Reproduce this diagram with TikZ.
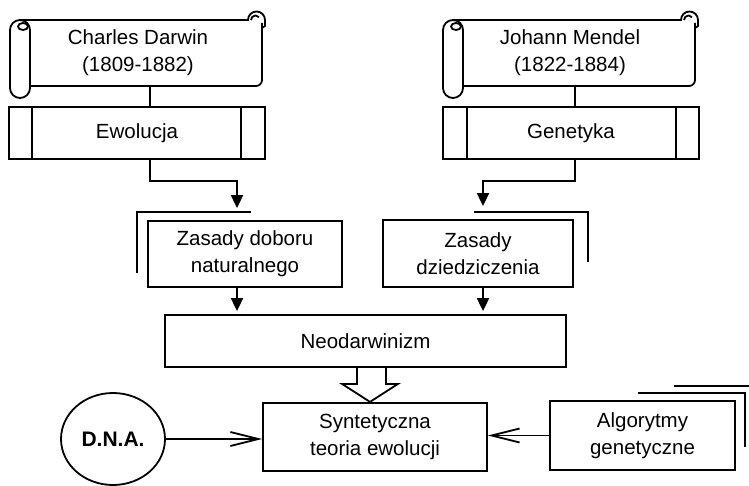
\documentclass[tikz,border=0pt]{standalone}
\usepackage{fontspec}
\setmainfont{Liberation Sans}
\usetikzlibrary{arrows.meta,shapes.geometric}

\tikzset{
  scrollpic/.pic={
    % left roll with its curl
    \draw (0,10) arc[start angle=180,end angle=360,radius=10] -- (20,68)
          arc[start angle=0,end angle=180,radius=10] -- cycle;
    \draw (13,6.5) ellipse[x radius=5,y radius=3.5];
    % top edge and right roll
    \draw (10,0) -- (238,0) arc[start angle=180,end angle=360,radius=8.5] -- (255,6) -- (252,8);
    \draw (241,0) arc[start angle=180,end angle=320,radius=4.5];
    % right edge and bottom edge
    \draw (252,3) -- (252,60) arc[start angle=0,end angle=90,radius=6] -- (20,66);
  },
  box/.style={draw,rectangle},
  txt/.style={font=\fontsize{20.5}{27}\selectfont,align=center,inner sep=0pt},
  fillarr/.style={-{Triangle[length=13pt,width=12pt]}},
  openarr/.style={-{Straight Barb[length=28pt,width=14pt]}},
}

\begin{document}
\begin{tikzpicture}[x=1pt,y=-1pt,line width=1.8pt]
\useasboundingbox (0,0) rectangle (749,486);

% scrolls with names
\pic at (10,20) {scrollpic};
\pic at (443,20) {scrollpic};
\node[txt,minimum width=232pt,minimum height=66pt] (darwin) at (138,53) {Charles Darwin\\(1809-1882)};
\node[txt,minimum width=232pt,minimum height=66pt] (mendel) at (570,53) {Johann Mendel\\(1822-1884)};

% banner boxes
\node[box,txt,minimum width=256pt,minimum height=52pt] (ewol) at (137,133) {Ewolucja};
\node[box,txt,minimum width=256pt,minimum height=52pt] (gen) at (571,133) {Genetyka};
\draw ([xshift=24pt]ewol.north west) -- ([xshift=24pt]ewol.south west);
\draw ([xshift=-25pt]ewol.north east) -- ([xshift=-25pt]ewol.south east);
\draw ([xshift=25pt]gen.north west) -- ([xshift=25pt]gen.south west);
\draw ([xshift=-24pt]gen.north east) -- ([xshift=-24pt]gen.south east);

% principles
\node[box,txt,minimum width=194pt,minimum height=66pt] (zdob) at (245,254) {Zasady doboru\\naturalnego};
\node[box,txt,minimum width=190pt,minimum height=67pt] (zdz) at (478,253.5) {Zasady\\dziedziczenia};
\draw ([xshift=-10pt,yshift=15pt]zdob.south west) |- ([xshift=104pt,yshift=8pt]zdob.north west);
\draw ([xshift=-100pt,yshift=7pt]zdz.north east) -| ([xshift=14pt,yshift=-43pt]zdz.north east);

\node[box,txt,minimum width=401pt,minimum height=52pt] (neo) at (365.5,341) {Neodarwinizm};
\node[box,txt,minimum width=224pt,minimum height=68pt] (syn) at (375,437) {Syntetyczna\\teoria ewolucji};
\node[draw,ellipse,txt,font=\fontsize{21}{27}\selectfont\bfseries,minimum width=104pt,minimum height=92pt] (dna) at (113,439) {D.N.A.};
\node[box,txt,minimum width=185pt,minimum height=69pt] (alg) at (642.5,435.5) {Algorytmy\\genetyczne};
\draw ([xshift=-98pt,yshift=7pt]alg.north east) -| ([xshift=9pt,yshift=-47pt]alg.north east);
\draw ([xshift=-62pt,yshift=14pt]alg.north east) -- ([xshift=18pt,yshift=14pt]alg.north east);

% guide columns
\coordinate (dl) at (150,0);
\coordinate (ml) at (575,0);
\coordinate (lc) at (237,0);
\coordinate (rc) at (483,0);
\coordinate (hc) at (371.5,0);
\path ([yshift=12pt]zdob.north) coordinate (zt);
\path ([yshift=13pt]zdz.north) coordinate (dt);
\path ([yshift=3pt]neo.north) coordinate (nt);
\path (neo.south -| hc) coordinate (hs);

% connectors
\draw (darwin.south -| dl) -- (ewol.north -| dl);
\draw (mendel.south -| ml) -- (gen.north -| ml);
\draw[fillarr] (ewol.south -| dl) -- ++(0,21) -| (zt -| lc);
\draw[fillarr] (gen.south -| ml) -- ++(0,21) -| (dt -| rc);
\draw[fillarr] (zdob.south -| lc) -- (nt -| lc);
\draw[fillarr] (zdz.south -| rc) -- (nt -| rc);
\draw ([xshift=-14.5pt]hs) -- ++(0,16) -- ++(-15,0) -- ++(28,18) -- ++(28,-18) -- ++(-12,0) -- ++(0,-16);
\draw[openarr] (dna.east) -- (dna.east -| syn.west);
\draw[openarr] (alg.west) -- (alg.west -| syn.east);
\end{tikzpicture}
\end{document}
